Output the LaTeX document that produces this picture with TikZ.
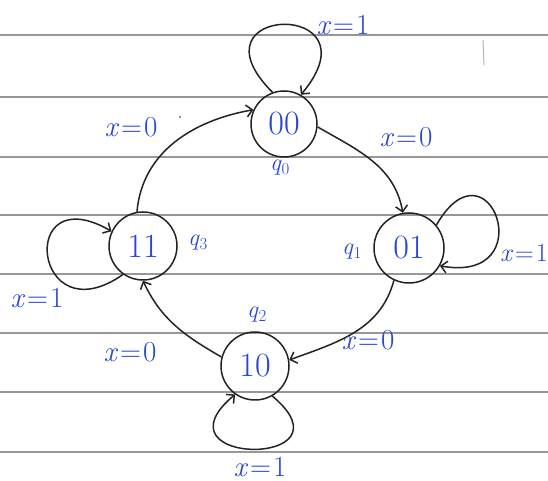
\documentclass[tikz,border=0pt]{standalone}
\usepackage{fontspec}
\usetikzlibrary{arrows.meta}
\definecolor{ink}{RGB}{35,35,35}
\definecolor{pen}{RGB}{40,70,215}
\definecolor{rulegray}{RGB}{150,150,155}
\newcommand{\xeq}[1]{\textit{x}\kern2pt=\kern2pt#1}
\newcommand{\qsub}[1]{\textit{q}\textsubscript{#1}}
\begin{document}
\begin{tikzpicture}[x=1pt,y=1pt,
  state/.style={circle,draw=ink,line width=1.5pt,minimum size=#1,inner sep=0pt,text=pen,font=\fontsize{34}{36}\selectfont},
  edge/.style={draw=ink,line width=1.5pt,-{Straight Barb[length=6pt,width=12pt]}},
  lab/.style={text=pen,font=\fontsize{29}{31}\selectfont,inner sep=0pt},
  qlab/.style={text=pen,font=\fontsize{24}{26}\selectfont,inner sep=0pt},
  ruled/.style={draw=rulegray,line width=1.3pt}]

\useasboundingbox (0,0) rectangle (548,481);
\fill[white] (0,0) rectangle (548,481);
\foreach \y in {446,384,324,266,207,148,89,29} \draw[ruled] (0,\y) -- (548,\y);
\draw[rulegray!70,line width=1pt] (483,441) -- (484,416);

% states
\node[state=66pt] (n00) at (284,357) {00};
\node[state=68pt] (n11) at (143,235) {11};
\node[state=70pt] (n01) at (409,233) {01};
\node[state=68pt] (n10) at (255,115) {10};

% transitions
\draw[edge] (n00.-5) to[out=-30,in=100] (n01.100);
\draw[edge] (n01.245) to[out=-105,in=20] (n10.10);
\draw[edge] (n10.165) to[out=150,in=-65] (n11.-90);
\draw[edge] (n11.100) to[out=85,in=190] (n00.155);

% self loops
\draw[edge] (n00.110) to[out=135,in=50,distance=125pt] (n00.60);
\draw[edge] (n11.235) to[out=215,in=150,distance=110pt] (n11.155);
\draw[edge] (n01.40) to[out=60,in=-10,distance=105pt] (n01.-30);
\draw[edge] (n10.-60) to[out=-40,in=-140,distance=112pt] (n10.-125);

% labels
\node[lab] (l1) at (343,456) {\xeq{1}};
\node[lab] (l2) at (406,344) {\xeq{0}};
\node[lab] (l3) at (131,354) {\xeq{0}};
\fill[pen!40!gray] (180,364) circle (1.2pt);
\node[lab,anchor=east,font=\fontsize{26}{28}\selectfont] (l4) at (548,228) {\xeq{1}};
\node[lab] (l5) at (37,183) {\xeq{1}};
\node[lab] (l6) at (130,129) {\xeq{0}};
\node[lab] (l7) at (368,141) {\xeq{0}};
\node[lab] (l8) at (260,14) {\xeq{1}};

\node[qlab] (q0) at (280,313) {\qsub{0}};
\node[qlab] (q1) at (352,229) {\qsub{1}};
\node[qlab] (q2) at (257,166) {\qsub{2}};
\node[qlab] (q3) at (198,238) {\qsub{3}};
\end{tikzpicture}
\end{document}
